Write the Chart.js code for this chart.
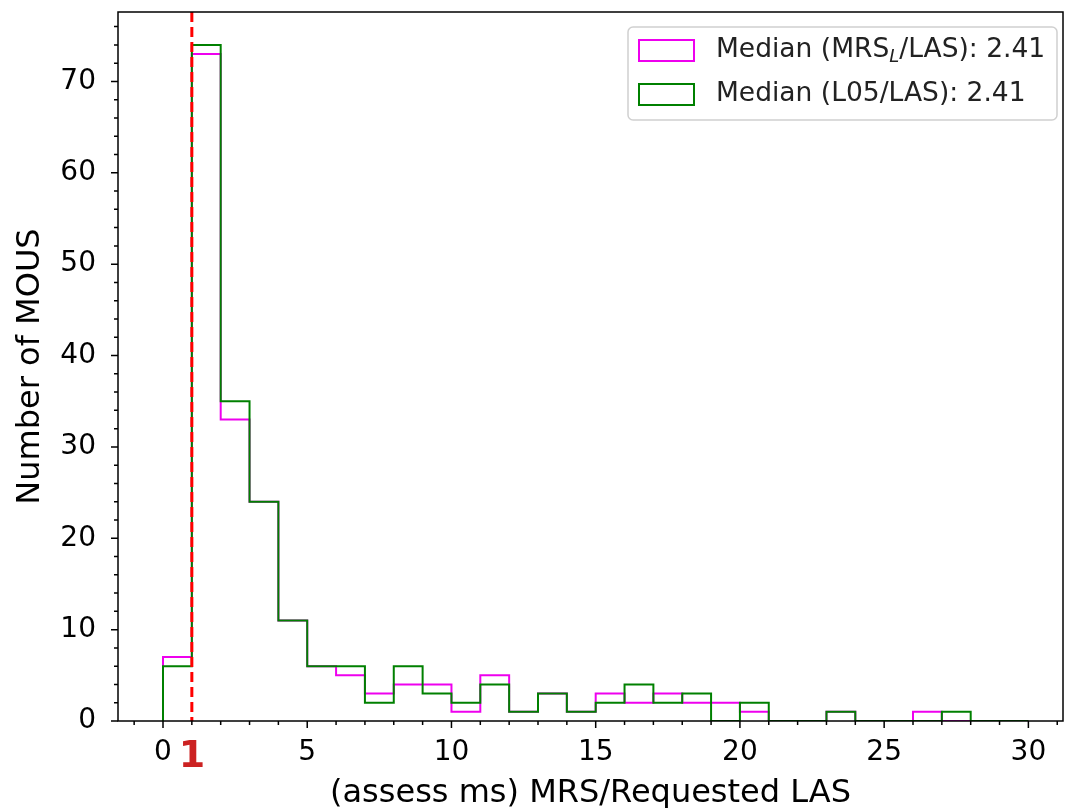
<!DOCTYPE html>
<html>
<head>
<meta charset="utf-8">
<script src="https://cdn.jsdelivr.net/npm/chart.js@4.4.1/dist/chart.umd.min.js"></script>
<style>
  html, body { margin: 0; padding: 0; background: #fff; }
  #wrap { width: 1068px; height: 808px; }
</style>
</head>
<body>
<div id="wrap"><canvas id="histChart" width="1068" height="808"></canvas></div>
<script>
// bins de largura 1, de 0 a 30 (borda esquerda de cada bin)
const binLeft = [0,1,2,3,4,5,6,7,8,9,10,11,12,13,14,15,16,17,18,19,20,21,22,23,24,25,26,27,28,29];
const countsMRS = [7,73,33,24,11,6,5,3,4,4,1,5,1,3,1,3,2,3,2,2,1,0,0,1,0,0,1,0,0,0];
const countsL05 = [6,74,35,24,11,6,6,2,6,3,2,4,1,3,1,2,4,2,3,0,2,0,0,1,0,0,0,1,0,0];
const xTicks = [0,5,10,15,20,25,30];
const yTicks = [0,10,20,30,40,50,60,70];
const refLineX = 1;

const FONT = "'DejaVu Sans', sans-serif";
const MAGENTA = '#ee00ee';
const VERDE = '#008000';

// contorno tipo "step" do histograma
function stepPoints(counts) {
  const pts = [{x: binLeft[0], y: 0}];
  counts.forEach((v, i) => {
    pts.push({x: binLeft[i], y: v});
    pts.push({x: binLeft[i] + 1, y: v});
  });
  pts.push({x: binLeft[binLeft.length - 1] + 1, y: 0});
  return pts;
}

// moldura, ticks maiores/menores e linha vermelha
const framePlugin = {
  id: 'frame',
  afterDatasetsDraw(chart) {
    const {ctx, chartArea: a, scales: {x, y}} = chart;
    ctx.save();
    // linha tracejada em x=1
    const rx = x.getPixelForValue(refLineX);
    ctx.strokeStyle = '#ff0000';
    ctx.lineWidth = 3;
    ctx.setLineDash([10, 5]);
    ctx.beginPath(); ctx.moveTo(rx, a.top); ctx.lineTo(rx, a.bottom); ctx.stroke();
    ctx.setLineDash([]);

    ctx.strokeStyle = '#000';
    ctx.lineWidth = 1.5;
    ctx.strokeRect(a.left, a.top, a.right - a.left, a.bottom - a.top);

    ctx.beginPath();
    for (let v = Math.ceil(x.min); v <= x.max; v++) {
      const px = x.getPixelForValue(v);
      const len = v % 5 === 0 ? 7 : 4;
      ctx.moveTo(px, a.bottom); ctx.lineTo(px, a.bottom + len);
    }
    for (let v = 0; v <= y.max; v += 2) {
      const py = y.getPixelForValue(v);
      const len = v % 10 === 0 ? 7 : 4;
      ctx.moveTo(a.left, py); ctx.lineTo(a.left - len, py);
    }
    ctx.stroke();

    // rótulo "1" em vermelho
    ctx.fillStyle = '#cc2222';
    ctx.font = 'bold 38px ' + FONT;
    ctx.textAlign = 'center';
    ctx.textBaseline = 'alphabetic';
    ctx.fillText('1', rx, 767);
    ctx.restore();
  }
};

// legenda com subscrito
const legendPlugin = {
  id: 'legendaSub',
  afterDraw(chart) {
    const {ctx} = chart;
    ctx.save();
    const bx = 628, by = 27, bw = 429, bh = 93, r = 5;
    ctx.fillStyle = 'rgba(255,255,255,0.8)';
    ctx.strokeStyle = '#d0d0d0';
    ctx.lineWidth = 1.5;
    ctx.beginPath();
    ctx.roundRect(bx, by, bw, bh, r);
    ctx.fill(); ctx.stroke();

    const rows = [
      {color: MAGENTA, y: 50, parts: [['Median (MRS', 0], ['L', 1], ['/LAS): 2.41', 0]]},
      {color: VERDE, y: 94, parts: [['Median (L05/LAS): 2.41', 0]]}
    ];
    rows.forEach(row => {
      ctx.strokeStyle = row.color;
      ctx.lineWidth = 2;
      ctx.strokeRect(639, row.y - 10, 55, 21);
      let tx = 716;
      ctx.fillStyle = '#222';
      ctx.textAlign = 'left';
      ctx.textBaseline = 'middle';
      row.parts.forEach(([txt, sub]) => {
        ctx.font = sub ? 'italic 18px ' + FONT : '26.5px ' + FONT;
        ctx.fillText(txt, tx, row.y + (sub ? 7 : 0));
        tx += ctx.measureText(txt).width;
      });
    });
    ctx.restore();
  }
};

new Chart(document.getElementById('histChart'), {
  type: 'line',
  data: {
    datasets: [
      { label: 'Median (MRS_L/LAS): 2.41', data: stepPoints(countsMRS), borderColor: MAGENTA,
        borderWidth: 2, pointRadius: 0, tension: 0, fill: false, order: 2 },
      { label: 'Median (L05/LAS): 2.41', data: stepPoints(countsL05), borderColor: VERDE,
        borderWidth: 2, pointRadius: 0, tension: 0, fill: false, order: 1 }
    ]
  },
  options: {
    responsive: false,
    animation: false,
    layout: { padding: { left: 11, top: 12, right: 5, bottom: 0 } },
    plugins: { legend: { display: false }, tooltip: { enabled: false } },
    scales: {
      x: {
        type: 'linear', min: -1.56, max: 31.2,
        afterFit: s => { s.height = 87; s.paddingLeft = 0; s.paddingRight = 0; },
        afterBuildTicks: s => { s.ticks = xTicks.map(v => ({value: v})); },
        grid: { display: false, drawTicks: false },
        border: { display: false },
        ticks: { font: { family: FONT, size: 28 }, color: '#000', padding: 15, maxRotation: 0 },
        title: { display: true, text: '(assess ms) MRS/Requested LAS', font: { family: FONT, size: 32 }, color: '#000', padding: { top: 0, bottom: -5 } }
      },
      y: {
        min: 0, max: 77.6,
        afterFit: s => { s.width = 107; s.paddingTop = 0; s.paddingBottom = 0; },
        afterBuildTicks: s => { s.ticks = yTicks.map(v => ({value: v})); },
        grid: { display: false, drawTicks: false },
        border: { display: false },
        ticks: { font: { family: FONT, size: 28 }, color: '#000', padding: 22 },
        title: { display: true, text: 'Number of MOUS', font: { family: FONT, size: 32 }, color: '#000', padding: 0 }
      }
    }
  },
  plugins: [framePlugin, legendPlugin]
});
</script>
</body>
</html>
